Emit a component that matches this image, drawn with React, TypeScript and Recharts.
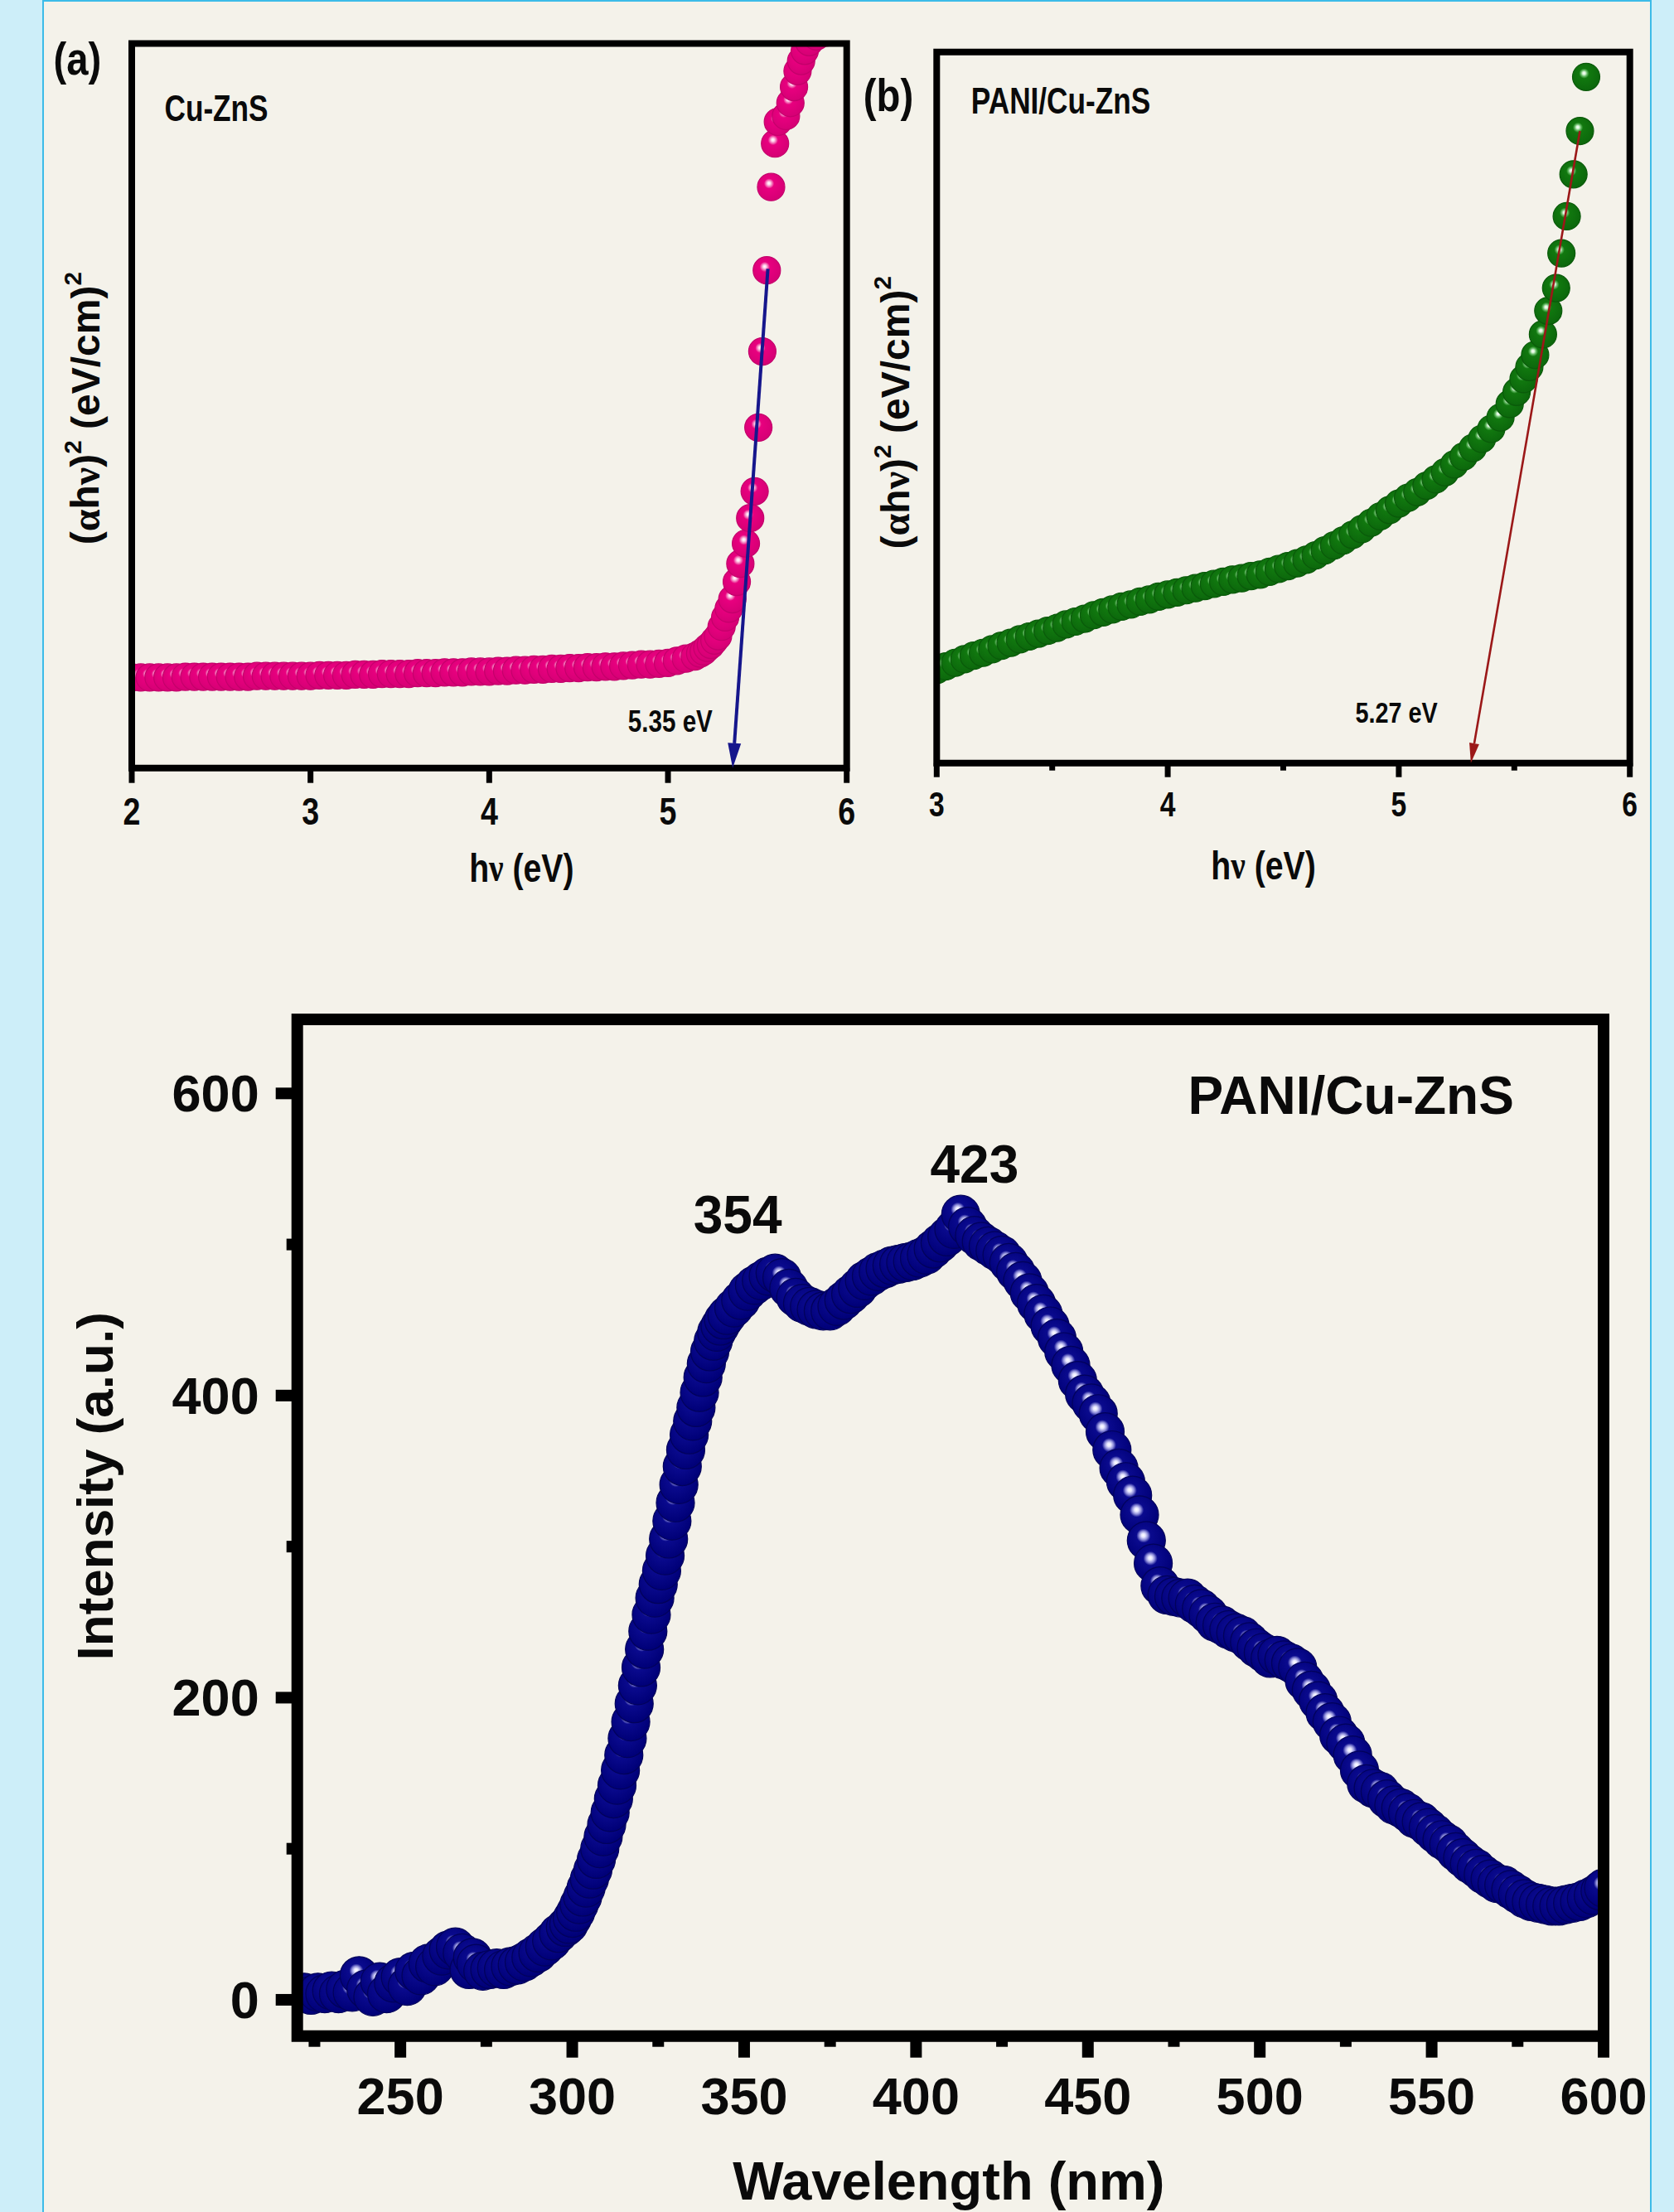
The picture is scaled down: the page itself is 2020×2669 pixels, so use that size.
import { ScatterChart, Scatter, XAxis, YAxis, ReferenceArea, ReferenceLine, ReferenceDot, Label } from "recharts"

const PAGE_W = 2020
const PAGE_H = 2669

const SANS = "'Liberation Sans', Arial, Helvetica, sans-serif"
const SERIF = "'Liberation Serif', 'DejaVu Serif', serif"
const NARROW_X = 0.8 // condensed look of the top panels (Arial Narrow in the original)

// (a) Cu-ZnS, Tauc plot (arbitrary y units, frame = 0..100)
const A_HV = [
  2.0, 2.05, 2.1, 2.15, 2.2, 2.25, 2.3, 2.35, 2.4, 2.45,
  2.5, 2.55, 2.6, 2.65, 2.7, 2.75, 2.8, 2.85, 2.9, 2.95,
  3.0, 3.05, 3.1, 3.15, 3.2, 3.25, 3.3, 3.35, 3.4, 3.45,
  3.5, 3.55, 3.6, 3.65, 3.7, 3.75, 3.8, 3.85, 3.9, 3.95,
  4.0, 4.05, 4.1, 4.15, 4.2, 4.25, 4.3, 4.35, 4.4, 4.45,
  4.5, 4.55, 4.6, 4.65, 4.7, 4.75, 4.8, 4.85, 4.9, 4.95,
  5.0, 5.05, 5.1, 5.15,
  5.18, 5.2, 5.22, 5.24, 5.26, 5.28, 5.3, 5.32, 5.34, 5.36,
  5.385, 5.405, 5.436, 5.46, 5.485, 5.506, 5.528, 5.553, 5.577, 5.599,
  5.615, 5.66, 5.685, 5.705, 5.725, 5.745, 5.765, 5.79, 5.83, 5.88, 5.93,
]
const A_VAL = [
  12.5, 12.5, 12.5, 12.5, 12.5, 12.5, 12.6, 12.6, 12.6, 12.6,
  12.6, 12.6, 12.6, 12.6, 12.7, 12.7, 12.7, 12.7, 12.7, 12.7,
  12.7, 12.8, 12.8, 12.8, 12.8, 12.9, 12.9, 12.9, 13.0, 13.0,
  13.0, 13.0, 13.1, 13.1, 13.1, 13.2, 13.2, 13.2, 13.3, 13.3,
  13.3, 13.4, 13.4, 13.5, 13.5, 13.6, 13.6, 13.7, 13.7, 13.8,
  13.8, 13.9, 13.9, 14.0, 14.0, 14.1, 14.2, 14.3, 14.3, 14.4,
  14.5, 14.8, 15.1, 15.4,
  15.8, 16.1, 16.6, 17.0, 17.6, 18.2, 19.5, 20.8, 22.0, 23.3,
  25.7, 28.2, 31.0, 34.5, 38.2, 47.0, 57.5, 68.7, 80.2, 86.2,
  89.2, 90.0, 91.8, 94.0, 96.2, 97.6, 99.0, 100.2, 101.0, 101.5, 102.0,
]
const A_TICKS = [2, 3, 4, 5, 6]
const A_FIT = [{ x: 5.559, y: 68.9 }, { x: 5.362, y: 0 }]

// (b) PANI/Cu-ZnS, Tauc plot
const B_HV = [
  3.0, 3.04, 3.08, 3.12, 3.16, 3.2, 3.24, 3.28, 3.32, 3.36,
  3.4, 3.44, 3.48, 3.52, 3.56, 3.6, 3.64, 3.68, 3.72, 3.76,
  3.8, 3.84, 3.88, 3.92, 3.96, 4.0, 4.04, 4.08, 4.12, 4.16,
  4.2, 4.24, 4.28, 4.32, 4.36, 4.4, 4.44, 4.48, 4.52, 4.56,
  4.6, 4.64, 4.68, 4.72, 4.76, 4.8, 4.84, 4.88, 4.92, 4.96,
  5.0, 5.04, 5.08, 5.12, 5.16, 5.2, 5.24, 5.28, 5.32, 5.36,
  5.4, 5.44, 5.48, 5.51, 5.54, 5.565,
  5.59, 5.624, 5.647, 5.681, 5.704, 5.727, 5.756, 5.784, 5.811,
]
const B_VAL = [
  13.1, 13.6, 14.1, 14.6, 15.1, 15.5, 16.0, 16.5, 16.9, 17.4,
  17.8, 18.2, 18.6, 19.0, 19.5, 19.9, 20.3, 20.8, 21.2, 21.6,
  22.0, 22.3, 22.7, 23.0, 23.4, 23.7, 24.0, 24.3, 24.6, 24.9,
  25.2, 25.5, 25.8, 26.0, 26.3, 26.5, 26.9, 27.3, 27.7, 28.1,
  28.6, 29.2, 29.9, 30.6, 31.3, 32.1, 32.9, 33.8, 34.7, 35.6,
  36.5, 37.3, 38.1, 39.0, 39.9, 40.9, 42.0, 43.1, 44.3, 45.6,
  47.0, 48.6, 50.5, 52.2, 54.0, 55.7,
  57.4, 60.3, 63.6, 66.8, 71.7, 76.9, 82.8, 88.9, 96.5,
]
const B_TICKS = [3, 3.5, 4, 4.5, 5, 5.5, 6]
const B_MAJOR = [3, 4, 5, 6]
const B_FIT = [{ x: 5.784, y: 88.9 }, { x: 5.312, y: 0 }]

// (c) PL spectrum of PANI/Cu-ZnS
const C_NM = [
  220, 222, 224, 226, 228, 230, 232, 234, 236, 238, 240, 242, 244, 246, 248, 250, 252, 254, 256, 258,
  260, 262, 264, 266, 268, 270, 271, 272, 274, 276, 278, 280, 282, 284, 286, 288, 290, 292, 294, 296, 298,
  299, 300, 301, 302, 303, 304, 305, 306, 307, 308, 309, 310, 311, 312, 313, 314, 315, 316, 317, 318,
  319, 320, 321, 322, 323, 324, 325, 326, 327, 328, 329, 330, 331, 332, 333, 334, 335, 336, 337, 338,
  339, 340, 341, 342, 343, 344, 345,
  347, 349, 351, 353, 355, 357, 359, 361, 363, 365, 367, 369, 371, 373, 375, 377, 379, 381, 383, 385,
  387, 389, 391, 393, 395, 397, 399, 401, 403, 405, 407, 409, 411, 413, 415, 417, 419, 421, 423, 425,
  427, 429, 431, 433, 435, 437, 439, 441, 443, 445, 447, 449, 451, 453, 455, 457, 459, 461, 463, 465,
  467, 469, 471, 473, 475, 477, 479, 481, 483, 485, 487, 489, 491, 493, 495, 497, 499, 501, 503, 505,
  507, 509, 511, 513, 515, 517, 519, 521, 523, 525, 527, 529, 531, 533, 535, 537, 539, 541, 543, 545,
  547, 549, 551, 553, 555, 557, 559, 561, 563, 565, 567, 569, 571, 573, 575, 577, 579, 581, 583, 585,
  587, 589, 591, 593, 595, 597, 599, 600,
]
const C_INT = [
  4, 5, 3, 5, 4, 6, 4, 7, 5, 16, 7, 2, 12, 4, 11, 15, 9, 19, 16, 24,
  22, 29, 33, 35, 31, 20, 28, 24, 19, 20, 21, 20, 22, 23, 25, 28, 31, 35, 39, 44, 48,
  50, 54, 58, 63, 68, 74, 80, 86, 93, 100, 108, 116, 124, 133, 142, 152, 162, 173, 184, 196,
  208, 220, 232, 244, 255, 266, 275, 284, 294, 305, 317, 329, 341, 353, 364, 374, 383, 392, 402, 412,
  421, 429, 436, 442, 446, 450, 453,
  458, 463, 469, 473, 476, 479, 481, 478, 471, 465, 461, 459, 457, 456, 456, 459, 463, 467, 471, 476,
  479, 482, 484, 486, 487, 488, 489, 491, 493, 497, 501, 505, 510, 520, 512, 506, 502, 499, 496, 493,
  488, 482, 476, 468, 461, 454, 446, 438, 429, 420, 410, 401, 395, 388, 376, 364, 352, 343, 334, 321,
  304, 289, 274, 268, 267, 266, 266, 262, 259, 255, 250, 248, 245, 243, 241, 237, 233, 230, 226, 228,
  225, 223, 220, 211, 205, 198, 190, 184, 175, 170, 162, 152, 143, 140, 138, 133, 129, 127, 124, 120,
  118, 114, 110, 106, 103, 98, 94, 90, 87, 83, 80, 77, 76, 73, 70, 67, 65, 64, 63, 62,
  62, 63, 64, 65, 67, 69, 72, 74,
]
const C_X_TICKS = [225, 250, 275, 300, 325, 350, 375, 400, 425, 450, 475, 500, 525, 550, 575, 600]
const C_X_MAJOR = [250, 300, 350, 400, 450, 500, 550, 600]
const C_Y_TICKS = [0, 100, 200, 300, 400, 500, 600]
const C_Y_MAJOR = [0, 200, 400, 600]

// plot rectangles in page pixels
type Box = { l: number; t: number; r: number; b: number }
const BOX_A: Box = { l: 159, t: 52.6, r: 1021.7, b: 926.7 }
const BOX_B: Box = { l: 1130.3, t: 62.8, r: 1966.7, b: 920.7 }
const BOX_C: Box = { l: 358.7, t: 1230, r: 1935, b: 2456.7 }
const AXIS_W = 100
const AXIS_H = 100

const marginFor = (p: Box) => ({
  left: p.l - AXIS_W,
  top: p.t,
  right: PAGE_W - p.r,
  bottom: PAGE_H - p.b - AXIS_H,
})

const zip = (xs: number[], ys: number[]) => xs.map((x, i) => ({ x, y: ys[i] }))

function Ball({ id, light, mid, base, edge }: { id: string; light: string; mid: string; base: string; edge: string }) {
  return (
    <radialGradient id={id} cx="44%" cy="40%" r="58%" fx="42%" fy="36%">
      <stop offset="0%" stopColor="#ffffff" />
      <stop offset="9%" stopColor={light} />
      <stop offset="20%" stopColor={mid} />
      <stop offset="32%" stopColor={base} />
      <stop offset="100%" stopColor={edge} />
    </radialGradient>
  )
}

const ball = (id: string, r: number, edge: string) => (p: any) => (
  <circle cx={p.cx} cy={p.cy} r={r} fill={`url(#${id})`} stroke={edge} strokeWidth={1.2} />
)

const arrow = (color: string, w: number, len: number, half: number) => (p: any) => {
  const { x1, y1, x2, y2 } = p
  const a = Math.atan2(y2 - y1, x2 - x1)
  const c = Math.cos(a)
  const s = Math.sin(a)
  const bx = x2 - len * c
  const by = y2 - len * s
  return (
    <g>
      <line x1={x1} y1={y1} x2={bx} y2={by} stroke={color} strokeWidth={w} />
      <polygon points={`${x2},${y2} ${bx - half * s},${by + half * c} ${bx + half * s},${by - half * c}`} fill={color} />
    </g>
  )
}

// bold text centred on (x, y); sx < 1 squeezes it horizontally
function Txt({ x, y, size, sx = 1, anchor = "middle", children }: any) {
  return (
    <text
      transform={`translate(${x} ${y}) scale(${sx} 1)`}
      textAnchor={anchor}
      dominantBaseline="central"
      fontSize={size}
      fontFamily={SANS}
      fontWeight={700}
      fill="#0a0a0a"
    >
      {children}
    </text>
  )
}

const note = (text: string, size: number, sx = 1) => (p: any) => (
  <Txt x={p.cx} y={p.cy} size={size} sx={sx}>
    {text}
  </Txt>
)

type TickCfg = { majors: number[]; major: number; minor: number; sw: number; gap: number; size: number; sx: number }

const bottomTick = (c: TickCfg) => (p: any) => {
  const v = p.payload.value
  const isMajor = c.majors.includes(v)
  return (
    <g>
      <line x1={p.x} y1={p.y} x2={p.x} y2={p.y + (isMajor ? c.major : c.minor)} stroke="#000" strokeWidth={c.sw} />
      {isMajor && (
        <Txt x={p.x} y={p.y + c.gap} size={c.size} sx={c.sx}>
          {v}
        </Txt>
      )}
    </g>
  )
}

const leftTick = (c: TickCfg) => (p: any) => {
  const v = p.payload.value
  const isMajor = c.majors.includes(v)
  return (
    <g>
      <line x1={p.x} y1={p.y} x2={p.x - (isMajor ? c.major : c.minor)} y2={p.y} stroke="#000" strokeWidth={c.sw} />
      {isMajor && (
        <Txt x={p.x - c.gap} y={p.y} size={c.size} sx={c.sx} anchor="end">
          {v}
        </Txt>
      )}
    </g>
  )
}

const xTitle = (content: any, dx: number, dy: number, size: number, sx = 1) => (p: any) => {
  const vb = p.viewBox
  return (
    <Txt x={vb.x + vb.width / 2 + dx} y={vb.y + dy} size={size} sx={sx}>
      {content}
    </Txt>
  )
}

const yTitle = (content: any, dx: number, dy: number, size: number) => (p: any) => {
  const vb = p.viewBox
  const x = vb.x + vb.width + dx
  const y = vb.y + vb.height / 2 + dy
  return (
    <text
      x={x}
      y={y}
      transform={`rotate(-90 ${x} ${y})`}
      textAnchor="middle"
      dominantBaseline="central"
      fontSize={size}
      fontFamily={SANS}
      fontWeight={700}
      fill="#0a0a0a"
    >
      {content}
    </text>
  )
}

const hvTitle = (
  <>
    h<tspan fontFamily={SERIF}>ν</tspan> (eV)
  </>
)
const taucTitle = (
  <>
    (<tspan fontFamily={SERIF}>α</tspan>h<tspan fontFamily={SERIF}>ν</tspan>)
    <tspan fontSize="0.62em" dy="-0.55em">2</tspan>
    <tspan dy="0.34em"> (eV/cm)</tspan>
    <tspan fontSize="0.62em" dy="-0.55em">2</tspan>
  </>
)

const overlay: React.CSSProperties = { position: "absolute", left: 0, top: 0 }

function PanelA() {
  return (
    <ScatterChart width={PAGE_W} height={PAGE_H} margin={marginFor(BOX_A)}>
      <defs>
        <Ball id="ballA" light="#ffd9ee" mid="#f277b9" base="#e8007f" edge="#d60075" />
      </defs>
      <XAxis
        type="number"
        dataKey="x"
        domain={[2, 6]}
        ticks={A_TICKS}
        interval={0}
        allowDataOverflow
        axisLine={false}
        tickLine={false}
        tickSize={0}
        tickMargin={0}
        height={AXIS_H}
        tick={bottomTick({ majors: A_TICKS, major: 18, minor: 9, sw: 7, gap: 52, size: 47, sx: NARROW_X })}
      >
        <Label content={xTitle(hvTitle, 39, 120, 49, NARROW_X)} />
      </XAxis>
      <YAxis type="number" dataKey="y" domain={[0, 100]} allowDataOverflow axisLine={false} tickLine={false} tick={false} width={AXIS_W}>
        <Label content={yTitle(taucTitle, -56, 3, 48)} />
      </YAxis>
      <Scatter data={zip(A_HV, A_VAL)} shape={ball("ballA", 16.5, "#c4006b")} isAnimationActive={false} />
      <ReferenceLine segment={A_FIT} ifOverflow="visible" shape={arrow("#16168c", 4, 30, 8)} zIndex={1100} />
      <ReferenceDot x={2.473} y={91.1} ifOverflow="visible" shape={note("Cu-ZnS", 44, NARROW_X)} />
      <ReferenceDot x={5.013} y={6.5} ifOverflow="visible" shape={note("5.35 eV", 37, NARROW_X)} />
      <ReferenceDot x={1.696} y={97.9} ifOverflow="visible" shape={note("(a)", 55, 0.86)} />
      <ReferenceArea x1={2} x2={6} y1={0} y2={100} ifOverflow="visible" fill="none" stroke="#000" strokeWidth={8} zIndex={1000} />
    </ScatterChart>
  )
}

function PanelB() {
  return (
    <ScatterChart width={PAGE_W} height={PAGE_H} margin={marginFor(BOX_B)}>
      <defs>
        <Ball id="ballB" light="#d8f5d8" mid="#62b862" base="#11780f" edge="#0c680c" />
      </defs>
      <XAxis
        type="number"
        dataKey="x"
        domain={[3, 6]}
        ticks={B_TICKS}
        interval={0}
        allowDataOverflow
        axisLine={false}
        tickLine={false}
        tickSize={0}
        tickMargin={0}
        height={AXIS_H}
        tick={bottomTick({ majors: B_MAJOR, major: 17, minor: 9, sw: 7, gap: 50, size: 42, sx: NARROW_X })}
      >
        <Label content={xTitle(hvTitle, -24, 123, 49, NARROW_X)} />
      </XAxis>
      <YAxis type="number" dataKey="y" domain={[0, 100]} allowDataOverflow axisLine={false} tickLine={false} tick={false} width={AXIS_W}>
        <Label content={yTitle(taucTitle, -50, 6, 48)} />
      </YAxis>
      <Scatter data={zip(B_HV, B_VAL)} shape={ball("ballB", 16.5, "#0a5a0a")} isAnimationActive={false} />
      <ReferenceLine segment={B_FIT} ifOverflow="visible" shape={arrow("#9b1818", 2.6, 24, 6)} zIndex={1100} />
      <ReferenceDot x={3.537} y={93.1} ifOverflow="visible" shape={note("PANI/Cu-ZnS", 44, NARROW_X)} />
      <ReferenceDot x={4.99} y={7.2} ifOverflow="visible" shape={note("5.27 eV", 36, NARROW_X)} />
      <ReferenceDot x={2.791} y={93.9} ifOverflow="visible" shape={note("(b)", 55, 0.86)} />
      <ReferenceArea x1={3} x2={6} y1={0} y2={100} ifOverflow="visible" fill="none" stroke="#000" strokeWidth={8} zIndex={1000} />
    </ScatterChart>
  )
}

function PanelC() {
  return (
    <ScatterChart width={PAGE_W} height={PAGE_H} margin={marginFor(BOX_C)}>
      <defs>
        <Ball id="ballC" light="#e4e4ff" mid="#8c8cd8" base="#0a0a8e" edge="#000078" />
      </defs>
      <XAxis
        type="number"
        dataKey="x"
        domain={[220, 600]}
        ticks={C_X_TICKS}
        interval={0}
        allowDataOverflow
        axisLine={false}
        tickLine={false}
        tickSize={0}
        tickMargin={0}
        height={AXIS_H}
        tick={bottomTick({ majors: C_X_MAJOR, major: 26, minor: 13, sw: 14, gap: 72, size: 63, sx: 1 })}
      >
        <Label content={xTitle("Wavelength (nm)", -2, 175, 65)} />
      </XAxis>
      <YAxis
        type="number"
        dataKey="y"
        domain={[-24, 649]}
        ticks={C_Y_TICKS}
        interval={0}
        allowDataOverflow
        axisLine={false}
        tickLine={false}
        tickSize={0}
        tickMargin={0}
        width={AXIS_W}
        tick={leftTick({ majors: C_Y_MAJOR, major: 26, minor: 13, sw: 14, gap: 46, size: 63, sx: 1 })}
      >
        <Label content={yTitle("Intensity (a.u.)", -244, -50, 62)} />
      </YAxis>
      <Scatter data={zip(C_NM, C_INT)} shape={ball("ballC", 23, "#02025a")} isAnimationActive={false} />
      <ReferenceDot x={526.5} y={598.5} ifOverflow="visible" shape={note("PANI/Cu-ZnS", 64)} />
      <ReferenceDot x={348.1} y={519.5} ifOverflow="visible" shape={note("354", 64)} />
      <ReferenceDot x={417} y={552.9} ifOverflow="visible" shape={note("423", 64)} />
      <ReferenceArea x1={220} x2={600} y1={-24} y2={649} ifOverflow="visible" fill="none" stroke="#000" strokeWidth={14} zIndex={1000} />
    </ScatterChart>
  )
}

export default function App() {
  return (
    <div style={{ position: "absolute", left: 0, top: 0, width: PAGE_W, height: PAGE_H, background: "#cdeef9", overflow: "hidden" }}>
      <div
        style={{
          position: "absolute",
          left: 51,
          top: 0,
          width: 1942,
          height: PAGE_H + 20,
          background: "#f4f2ea",
          border: "2px solid #3cbbe8",
          boxSizing: "border-box",
        }}
      />
      <div style={overlay}>
        <PanelA />
      </div>
      <div style={overlay}>
        <PanelB />
      </div>
      <div style={overlay}>
        <PanelC />
      </div>
    </div>
  )
}
